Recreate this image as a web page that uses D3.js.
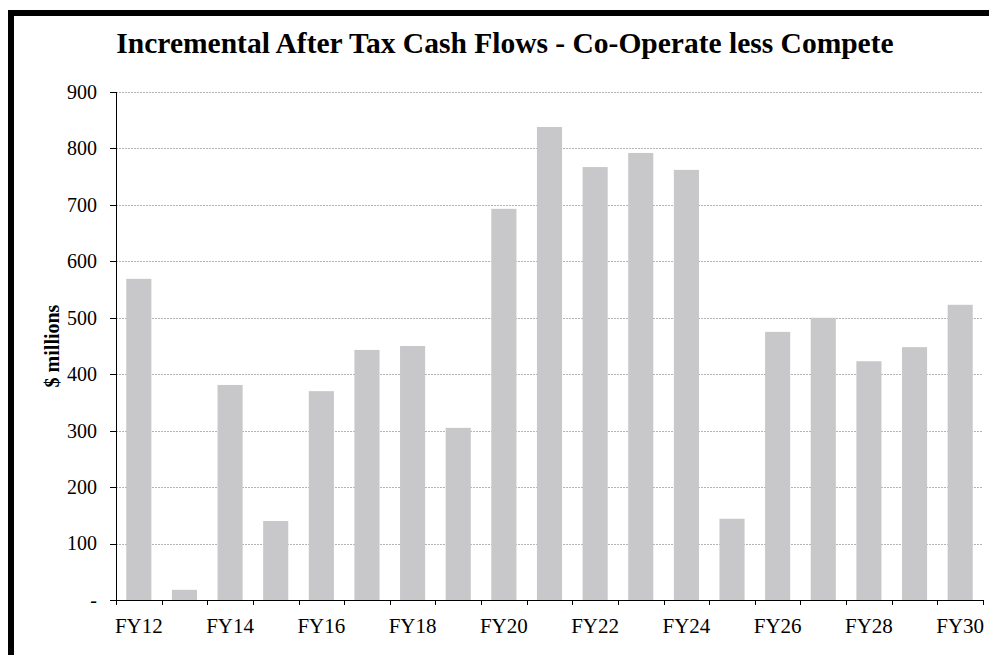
<!DOCTYPE html>
<meta charset="utf-8">
<style>
  body { margin: 0; background: #fff; }
  .axis path, .axis line { stroke: #000; shape-rendering: crispEdges; }
</style>
<div class="chart"></div>
<script src="https://cdn.jsdelivr.net/npm/d3@7/dist/d3.min.js"></script>
<script>
  var years = ["FY12","FY13","FY14","FY15","FY16","FY17","FY18","FY19","FY20","FY21",
               "FY22","FY23","FY24","FY25","FY26","FY27","FY28","FY29","FY30"];
  var cashFlows = [569, 18, 381, 140, 370, 443, 450, 305, 693, 838,
                   767, 792, 762, 144, 475, 500, 423, 448, 523];
  var yTicks = [0, 100, 200, 300, 400, 500, 600, 700, 800, 900];
  var xLabels = ["FY12","FY14","FY16","FY18","FY20","FY22","FY24","FY26","FY28","FY30"];

  var serif = '"Liberation Serif", "Times New Roman", serif';
  var width = 989, height = 655,
      margin = {top: 92, right: 6, bottom: 55, left: 116};
  var w = width - margin.left - margin.right,
      h = height - margin.top - margin.bottom;

  var svg = d3.select('.chart').append('svg')
      .attr('width', width)
      .attr('height', height);

  // frame (top and left thick borders)
  svg.append('rect').attr('x', 8).attr('y', 10).attr('width', width - 8).attr('height', 6).attr('fill', '#000');
  svg.append('rect').attr('x', 8).attr('y', 10).attr('width', 6).attr('height', height - 10).attr('fill', '#000');

  svg.append('text')
      .attr('x', 505).attr('y', 53)
      .attr('text-anchor', 'middle')
      .style('font-family', serif)
      .style('font-weight', 'bold')
      .style('font-size', '29.5px')
      .text('Incremental After Tax Cash Flows - Co-Operate less Compete');

  var g = svg.append('g').attr('transform', 'translate(' + margin.left + ',' + margin.top + ')');

  var x = d3.scaleBand().domain(years).range([0, w]).paddingInner(0.45).paddingOuter(0.225);
  var xTickScale = d3.scaleBand().domain(years).range([0, w]);
  var y = d3.scaleLinear().domain([0, 900]).range([h, 0]);

  // gridlines
  g.selectAll('.grid').data(yTicks.slice(1)).enter().append('line')
      .attr('class', 'grid')
      .attr('x1', 0).attr('x2', w)
      .attr('y1', d => Math.round(y(d)) + 0.5).attr('y2', d => Math.round(y(d)) + 0.5)
      .attr('stroke', '#b4b4b4')
      .attr('stroke-dasharray', '2,1')
      .attr('stroke-width', 1);

  g.selectAll('.bar').data(cashFlows).enter().append('rect')
      .attr('class', 'bar')
      .attr('x', (d, i) => x(years[i]))
      .attr('width', x.bandwidth())
      .attr('y', d => y(d))
      .attr('height', d => h - y(d))
      .attr('fill', '#c8c8ca');

  var yAxis = d3.axisLeft(y).tickValues(yTicks).tickSize(6).tickPadding(13)
      .tickFormat(d => d === 0 ? '-' : d);
  var yAxisG = g.append('g').attr('class', 'axis').call(yAxis);
  yAxisG.select('.domain').attr('d', 'M0.5,0V' + h);
  yAxisG.selectAll('text')
      .style('font-family', serif)
      .style('font-size', '20px')
      .attr('fill', '#000');

  // x axis: ticks on category boundaries
  var xAxisG = g.append('g').attr('class', 'axis').attr('transform', 'translate(0,' + h + ')');
  xAxisG.append('line').attr('x1', 0).attr('x2', w).attr('y1', 0.5).attr('y2', 0.5);
  xAxisG.selectAll('.tk').data(years.concat(['end'])).enter().append('line')
      .attr('class', 'tk')
      .attr('x1', (d, i) => Math.round(i * xTickScale.step()) + 0.5)
      .attr('x2', (d, i) => Math.round(i * xTickScale.step()) + 0.5)
      .attr('y1', 0).attr('y2', 5);
  xAxisG.selectAll('.lbl').data(xLabels).enter().append('text')
      .attr('class', 'lbl')
      .attr('x', d => xTickScale(d) + xTickScale.bandwidth() / 2)
      .attr('y', 33)
      .attr('text-anchor', 'middle')
      .style('font-family', serif)
      .style('font-size', '21px')
      .text(d => d);

  svg.append('text')
      .attr('transform', 'translate(59,' + (margin.top + h / 2) + ') rotate(-90)')
      .attr('text-anchor', 'middle')
      .style('font-family', serif)
      .style('font-weight', 'bold')
      .style('font-size', '20px')
      .text('$ millions');
</script>
